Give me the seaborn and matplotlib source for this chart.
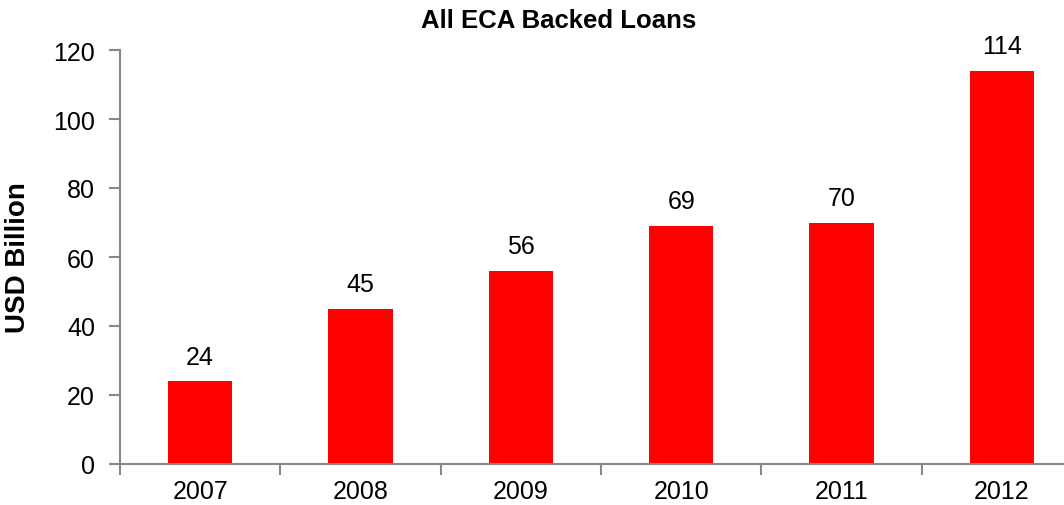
import matplotlib
matplotlib.use("Agg")
import matplotlib.pyplot as plt
import seaborn as sns
import pandas as pd
from matplotlib.ticker import FixedLocator, NullFormatter

years = ["2007", "2008", "2009", "2010", "2011", "2012"]
values = [24, 45, 56, 69, 70, 114]
yticks = [0, 20, 40, 60, 80, 100, 120]

sns.set_style("white")
plt.rcParams['font.family'] = ['Liberation Sans', 'DejaVu Sans']
plt.rcParams['text.color'] = 'black'
plt.rcParams['axes.labelcolor'] = 'black'

df = pd.DataFrame({"year": years, "value": values})

fig = plt.figure(figsize=(10.64, 5.06), dpi=100)
ax = fig.add_axes([120/1064, 41/506, 962/1064, 414/506])

sns.barplot(data=df, x="year", y="value", color="#FF0000", saturation=1,
            width=0.4, linewidth=0, ax=ax)

ax.set_xlim(-0.5, 5.5)
ax.set_ylim(0, 120)
ax.set_yticks(yticks)
ax.set_yticklabels([str(v) for v in yticks], fontsize=18)

ax.xaxis.set_minor_locator(FixedLocator([i - 0.5 for i in range(len(years) + 1)]))
ax.xaxis.set_minor_formatter(NullFormatter())
ax.tick_params(axis='x', which='major', bottom=True, length=0, pad=11, labelsize=18,
               labelcolor='black')
ax.tick_params(axis='x', which='minor', bottom=True, length=8, width=1.5, color='#888888',
               direction='out')
ax.tick_params(axis='y', which='major', left=True, length=8, width=1.5, color='#888888',
               direction='out', pad=10, labelsize=18, labelcolor='black')

for s in ['top', 'right']:
    ax.spines[s].set_visible(False)
for s in ['left', 'bottom']:
    ax.spines[s].set_visible(True)
    ax.spines[s].set_color('#888888')
    ax.spines[s].set_linewidth(1.5)

ax.set_xlabel("")
ax.set_ylabel("USD Billion", fontsize=20, fontweight='bold', color='black')
ax.yaxis.set_label_coords(-(120 - 31) / 962, 0.5)

for i, v in enumerate(values):
    ax.annotate(str(v), xy=(i, v), xytext=(0, 9), textcoords='offset points',
                ha='center', va='bottom', fontsize=18, color='black')

fig.text(558.5/1064, (506 - 28)/506, "All ECA Backed Loans", ha='center', va='baseline',
         fontsize=18.5, fontweight='bold', color='black')

fig.savefig("out.png", dpi=100)
